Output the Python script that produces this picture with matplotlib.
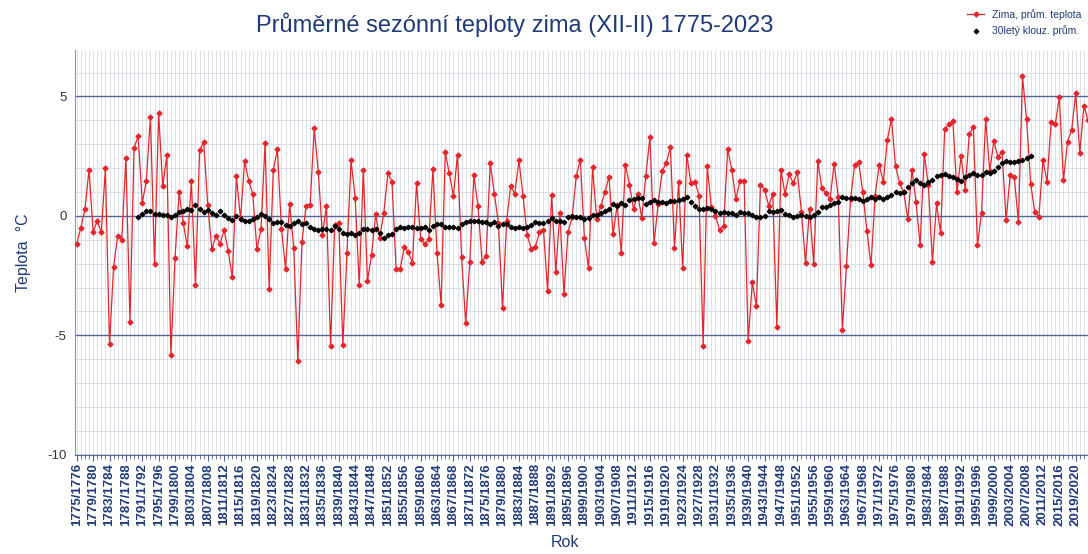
import numpy as np
import pandas as pd
import matplotlib
matplotlib.use("Agg")
import matplotlib.pyplot as plt
from matplotlib.ticker import MultipleLocator

plt.rcParams['font.family'] = ['Liberation Sans', 'DejaVu Sans']
plt.rcParams['axes.unicode_minus'] = False

# winters 1775/1776 ... 2022/2023
start_years = list(range(1775, 2023))
season_labels = [f"{y}/{y + 1}" for y in start_years]

# mean winter temperature (XII-II)
winter_temp = [
    -1.17, -0.49, 0.28, 1.93, -0.66, -0.21, -0.69, 1.99, -5.37, -2.13,
    -0.84, -0.99, 2.43, -4.42, 2.85, 3.34, 0.53, 1.48, 4.15, -2.03,
    4.29, 1.24, 2.53, -5.83, -1.76, 0.99, -0.28, -1.27, 1.45, -2.91,
    2.74, 3.09, 0.45, -1.40, -0.83, -1.16, -0.59, -1.47, -2.57, 1.66,
    -0.13, 2.29, 1.48, 0.90, -1.40, -0.56, 3.05, -3.06, 1.92, 2.78,
    -0.53, -2.22, 0.49, -1.33, -6.06, -1.10, 0.42, 0.45, 3.66, 1.85,
    -0.80, 0.42, -5.45, -0.36, -0.28, -5.40, -1.57, 2.32, 0.77, -2.90,
    1.93, -2.73, -1.65, 0.06, -0.92, 0.14, 1.79, 1.43, -2.22, -2.22,
    -1.29, -1.52, -1.95, 1.37, -0.95, -1.19, -0.95, 1.96, -1.57, -3.72,
    2.66, 1.78, 0.83, 2.57, -1.73, -4.50, -1.92, 1.71, 0.41, -1.92,
    -1.66, 2.22, 0.92, -0.30, -3.87, -0.20, 1.27, 0.92, 2.32, 0.85,
    -0.80, -1.37, -1.30, -0.69, -0.59, -3.13, 0.88, -2.36, 0.13, -3.27,
    -0.66, -0.06, 1.66, 2.36, -0.94, -2.17, 2.03, -0.13, 0.41, 0.99,
    1.64, -0.77, 0.45, -1.57, 2.15, 1.31, 0.27, 0.92, -0.08, 1.69,
    3.29, -1.15, 0.50, 1.89, 2.21, 2.88, -1.36, 1.41, -2.20, 2.57,
    1.36, 1.44, 0.85, -5.44, 2.07, 0.36, 0.00, -0.57, -0.43, 2.80,
    1.92, 0.70, 1.48, 1.48, -5.23, -2.78, -3.79, 1.31, 1.10, 0.43,
    0.90, -4.63, 1.93, 0.90, 1.75, 1.37, 1.82, 0.18, -1.96, 0.31,
    -2.00, 2.29, 1.15, 0.95, 0.71, 2.19, 0.80, -4.77, -2.10, 0.70,
    2.14, 2.24, 0.98, -0.63, -2.07, 0.85, 2.15, 1.43, 3.19, 4.06,
    2.08, 1.36, 0.99, -0.14, 1.94, 0.57, -1.23, 2.60, 1.31, -1.94,
    0.52, -0.73, 3.62, 3.83, 3.96, 0.98, 2.50, 1.10, 3.41, 3.72,
    -1.23, 0.13, 4.06, 1.87, 3.13, 2.46, 2.68, -0.19, 1.72, 1.62,
    -0.27, 5.85, 4.04, 1.34, 0.15, -0.04, 2.33, 1.44, 3.95, 3.83,
    4.96, 1.49, 3.11, 3.58, 5.13, 2.64, 4.62, 4.00,
]

# 30-year centred moving average
moving_avg = pd.Series(winter_temp).rolling(30, center=True).mean()

x = np.arange(len(winter_temp))

fig = plt.figure(figsize=(10.88, 5.54), dpi=100)
ax = fig.add_axes([0.069, 0.179, 0.931, 0.731])

navy = '#1f3a78'
ax.plot(x, winter_temp, color='#e3262b', lw=0.9, marker='D', ms=2.5,
        mec='#e3262b', mfc='#e3262b', label='Zima, prům. teplota', zorder=3)
ax.plot(x, moving_avg, ls='none', color='black', marker='D', ms=2.3,
        label='30letý klouz. prům.', zorder=4)

ax.set_xlim(-0.41, 246.66)
ax.set_ylim(-10, 6.95)

# grid
ax.yaxis.set_major_locator(MultipleLocator(5))
ax.yaxis.set_minor_locator(MultipleLocator(1))
ax.set_xticks(x[::4])
ax.set_xticklabels(season_labels[::4], rotation=90, fontsize=9.5,
                   fontweight='bold', color=navy)
ax.set_xticks(x, minor=True)
ax.grid(which='major', axis='y', color='#52659a', lw=1.0, zorder=1)
ax.grid(which='minor', axis='y', color='#dcdfe8', lw=0.7, zorder=0)
ax.grid(which='both', axis='x', color='#d9dce6', lw=0.6, zorder=0)

ax.tick_params(axis='x', which='major', length=4, color='#52659a', pad=2)
ax.tick_params(axis='x', which='minor', length=3, color='#52659a')
ax.tick_params(axis='y', which='both', length=0, labelsize=9.5,
               labelcolor='#333333', pad=6)

for side in ['top', 'right']:
    ax.spines[side].set_visible(False)
ax.spines['left'].set_color('#8c96b4')
ax.spines['bottom'].set_color('#52659a')

ax.set_ylabel('Teplota  °C', fontsize=11.5, color=navy, labelpad=12)
fig.text(0.519, 0.012, 'Rok', fontsize=11.5, color=navy, ha='center')

fig.text(0.473, 0.955, 'Průměrné sezónní teploty zima (XII-II) 1775-2023',
         fontsize=17, color=navy, ha='center', va='center')

fig.legend(loc='upper right', bbox_to_anchor=(1.0, 0.995), frameon=False,
           fontsize=7.5, handlelength=1.6, labelspacing=0.55,
           labelcolor=navy, borderaxespad=0.2)

fig.savefig('out.png', dpi=100)
